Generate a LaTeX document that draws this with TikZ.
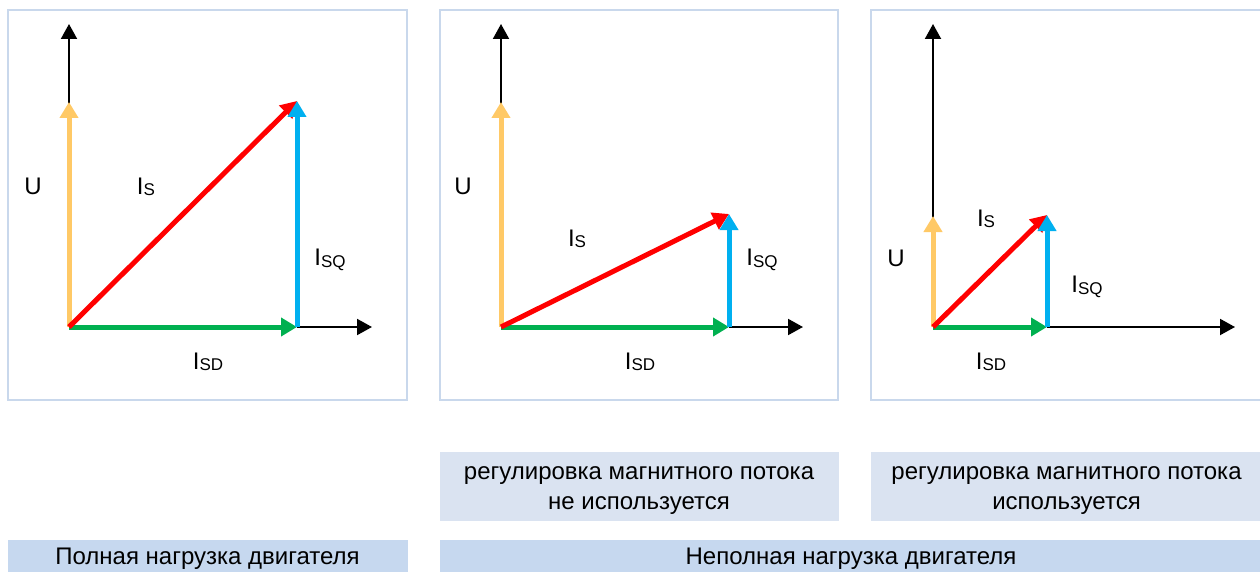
\documentclass[tikz,border=0pt]{standalone}
\usepackage{fontspec}
\setmainfont{Liberation Sans}
\usetikzlibrary{arrows.meta}
\definecolor{frameblue}{HTML}{C9D8EC}
\definecolor{lightfill}{HTML}{DAE3F1}
\definecolor{barfill}{HTML}{C6D8EF}
\definecolor{cyellow}{HTML}{FFC966}
\definecolor{cred}{HTML}{FF0000}
\definecolor{cblue}{HTML}{00B0F0}
\definecolor{cgreen}{HTML}{00B050}
\newcommand\vlbl[1]{I\raisebox{-1.5pt}{\fontsize{17}{17}\selectfont #1}}
\newcommand\lowstrut{\rule{0pt}{20.5pt}}
\tikzset{
  panel/.style={draw=frameblue, line width=1.5pt, fill=white},
  axis/.style={line width=2pt, black, -{Triangle[length=15pt,width=16pt]}},
  vec/.style={line width=5pt, -{Triangle[length=16pt,width=18pt]}},
  lbl/.style={font=\fontsize{24}{28}\selectfont, inner sep=0pt},
  note/.style={fill=lightfill, minimum width=400pt, minimum height=69pt, align=center, inner sep=0pt, font=\fontsize{24}{30}\selectfont},
  bar/.style={fill=barfill, minimum height=32pt, inner sep=0pt, text height=21.5pt, text depth=5pt, font=\fontsize{24}{28}\selectfont},
}
\begin{document}
\begin{tikzpicture}[x=1pt,y=-1pt]
\useasboundingbox (0,0) rectangle (1260,572);
% panel frames
\draw[panel] (8,10) rectangle (407,400);
\draw[panel] (440,10) rectangle (838,400);
\draw[panel] (871,10) rectangle (1262,400);

% ---------- panel 1 ----------
\coordinate (o1) at (69,327);
\coordinate (ya1) at (69,24);
\coordinate (xs1) at (297,327);
\coordinate (xa1) at (372,327);
\coordinate (u1) at (69,102);
\coordinate (p1) at (297,101);
\draw[axis] (o1) -- (ya1);
\draw[axis] (xs1) -- (xa1);
\draw[vec, cyellow] (o1) -- (u1);
\draw[vec, cgreen] (o1) -- (xs1);
\draw[vec, cred] (o1) -- (p1);
\draw[vec, cblue] (xs1) -- (p1);
\node[lbl] (U1) at (33,186) {U};
\node[lbl] (IS1) at (146,187) {\vlbl{S}};
\node[lbl] (ISQ1) at (330,260) {\vlbl{SQ}};
\node[lbl] (ISD1) at (208,362) {\vlbl{SD}};

% ---------- panel 2 ----------
\coordinate (o2) at (501,327);
\coordinate (ya2) at (501,24);
\coordinate (xs2) at (729,327);
\coordinate (xa2) at (803,327);
\coordinate (u2) at (501,102);
\coordinate (p2) at (729,214);
\draw[axis] (o2) -- (ya2);
\draw[axis] (xs2) -- (xa2);
\draw[vec, cyellow] (o2) -- (u2);
\draw[vec, cgreen] (o2) -- (xs2);
\draw[vec, cred] (o2) -- (p2);
\draw[vec, cblue] (xs2) -- (p2);
\node[lbl] (U2) at (463,186) {U};
\node[lbl] (IS2) at (577,239) {\vlbl{S}};
\node[lbl] (ISQ2) at (762,260) {\vlbl{SQ}};
\node[lbl] (ISD2) at (640,362) {\vlbl{SD}};

% ---------- panel 3 ----------
\coordinate (o3) at (933,327);
\coordinate (ya3) at (933,24);
\coordinate (xs3) at (1047,327);
\coordinate (xa3) at (1235,327);
\coordinate (u3) at (933,216);
\coordinate (p3) at (1047,215);
\draw[axis] (o3) -- (ya3);
\draw[axis] (xs3) -- (xa3);
\draw[vec, cyellow] (o3) -- (u3);
\draw[vec, cgreen] (o3) -- (xs3);
\draw[vec, cred] (o3) -- (p3);
\draw[vec, cblue] (xs3) -- (p3);
\node[lbl] (U3) at (896,258) {U};
\node[lbl] (IS3) at (986,219) {\vlbl{S}};
\node[lbl] (ISQ3) at (1087,287) {\vlbl{SQ}};
\node[lbl] (ISD3) at (991,362) {\vlbl{SD}};

% ---------- notes ----------
\node[note, minimum width=399pt] (n2) at (639,486.5) {\lowstrut регулировка магнитного потока\\не используется};
\node[note, minimum width=391pt] (n3) at (1066.5,486.5) {\lowstrut регулировка магнитного потока\\используется};
\node[bar, minimum width=400pt] (b1) at (207.5,556) {Полная нагрузка двигателя};
\node[bar, minimum width=822pt] (b2) at (851,556) {Неполная нагрузка двигателя};
\end{tikzpicture}
\end{document}
